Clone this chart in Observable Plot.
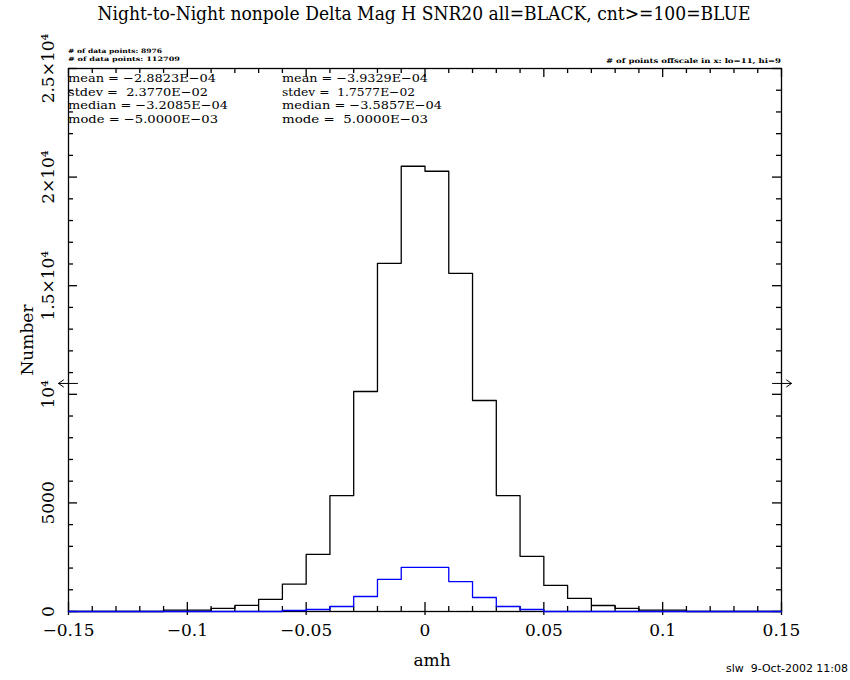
<!DOCTYPE html>
<html><head><meta charset="utf-8">
<script src="https://cdn.jsdelivr.net/npm/d3@7"></script>
<script src="https://cdn.jsdelivr.net/npm/@observablehq/plot@0.6"></script>
<style>body{margin:0;background:#fff;} svg{display:block}</style>
</head><body><div id="chart"></div>
<script>
// ---- data ----
const binStarts = [-0.15,-0.14,-0.13,-0.12,-0.11,-0.10,-0.09,-0.08,-0.07,-0.06,-0.05,-0.04,-0.03,-0.02,-0.01,
                   0.00,0.01,0.02,0.03,0.04,0.05,0.06,0.07,0.08,0.09,0.10,0.11,0.12,0.13,0.14];
const binEnd = 0.15;
const countsAll = [0,0,0,0,60,60,140,280,560,1260,2630,5335,10130,16030,20500,
                   20270,15570,9715,5335,2540,1200,600,277,140,60,60,0,0,0,0];
const countsBlue = [0,0,0,0,0,0,0,0,0,46,92,230,690,1475,2030,
                    2030,1380,645,230,92,0,0,0,0,0,0,0,0,0,0];
const xMajorTicks = [-0.15,-0.1,-0.05,0,0.05,0.1,0.15];
const xTickLabels = ["\u22120.15","\u22120.1","\u22120.05","0","0.05","0.1","0.15"];
const yMajorTicks = [0,5000,10000,15000,20000,25000];
const yTickLabels = ["0","5000","10\u2074","1.5\u00d710\u2074","2\u00d710\u2074","2.5\u00d710\u2074"];
const offscaleY = 10500;
const title = "Night-to-Night nonpole Delta Mag H SNR20 all=BLACK, cnt>=100=BLUE";
const statsAll = ["mean = \u22122.8823E\u221204","stdev =  2.3770E\u221202","median = \u22123.2085E\u221204","mode = \u22125.0000E\u221203"];
const statsBlue = ["mean = \u22123.9329E\u221204","stdev =  1.7577E\u221202","median = \u22123.5857E\u221204","mode =  5.0000E\u221203"];
const nPointsLines = ["# of data points: 8976","# of data points: 112709"];
const offscaleText = "# of points offscale in x: lo=11, hi=9";
const stamp = "slw  9-Oct-2002 11:08";

// ---- layout ----
const W = 850, H = 680, mL = 68, mR = 69, mT = 68, mB = 69;
const xMin = -0.15, xMax = 0.15, yMax = 25000;
const kx = (xMax - xMin) / (W - mL - mR);   // data units per pixel
const ky = yMax / (H - mT - mB);

function steps(counts){
  return binStarts.map((x,i)=>({x, y:counts[i]})).concat([{x: binEnd, y: counts[counts.length-1]}]);
}
const xMinor = d3.range(-14, 15).map(i => i/100).filter(v => Math.abs(Math.round(v*100)) % 5 !== 0);
const yMinor = d3.range(1000, 25000, 1000).filter(v => v % 5000 !== 0);

const chart = Plot.plot({
  width: W, height: H,
  marginLeft: mL, marginRight: mR, marginTop: mT, marginBottom: mB,
  style: {fontFamily: "DejaVu Serif", fontSize: "17px", background: "white", color: "black", overflow: "visible"},
  x: {domain: [xMin, xMax]},
  y: {domain: [0, yMax]},
  marks: [
    Plot.frame({stroke: "black", strokeWidth: 1.3}),
    // bottom ticks
    Plot.ruleX(xMajorTicks, {x: d=>d, y1: -4*ky, y2: 9*ky, stroke: "black", strokeWidth: 1.3}),
    Plot.ruleX(xMinor, {x: d=>d, y1: 0, y2: 5*ky, stroke: "black", strokeWidth: 1.3}),
    // top ticks
    Plot.ruleX(xMajorTicks, {x: d=>d, y1: yMax, y2: yMax - 9*ky, stroke: "black", strokeWidth: 1.3}),
    Plot.ruleX(xMinor, {x: d=>d, y1: yMax, y2: yMax - 5*ky, stroke: "black", strokeWidth: 1.3}),
    // left ticks
    Plot.ruleY(yMajorTicks, {y: d=>d, x1: xMin, x2: xMin + 9*kx, stroke: "black", strokeWidth: 1.3}),
    Plot.ruleY(yMinor, {y: d=>d, x1: xMin, x2: xMin + 5*kx, stroke: "black", strokeWidth: 1.3}),
    // right ticks
    Plot.ruleY(yMajorTicks, {y: d=>d, x1: xMax, x2: xMax - 9*kx, stroke: "black", strokeWidth: 1.3}),
    Plot.ruleY(yMinor, {y: d=>d, x1: xMax, x2: xMax - 5*kx, stroke: "black", strokeWidth: 1.3}),
    // axes labels
    Plot.axisX(xMajorTicks, {tickSize: 0, tickPadding: 12, tickFormat: (d,i) => xTickLabels[i], fontSize: 17, label: null}),
    Plot.axisY(yMajorTicks, {tickSize: 0, tickPadding: 15, tickRotate: -90, tickFormat: (d,i) => yTickLabels[i], fontSize: 17, label: null}),
    // histograms
    Plot.line(steps(countsAll), {x: "x", y: "y", curve: "step-after", stroke: "black", strokeWidth: 1.3}),
    Plot.line(steps(countsBlue), {x: "x", y: "y", curve: "step-after", stroke: "#0000ff", strokeWidth: 1.3}),
    // offscale arrows
    Plot.arrow([offscaleY], {x1: xMin + 9*kx, x2: xMin - 10*kx, y1: d=>d, y2: d=>d, stroke: "black", strokeWidth: 1, headLength: 9, headAngle: 70}),
    Plot.arrow([offscaleY], {x1: xMax - 9*kx, x2: xMax + 10*kx, y1: d=>d, y2: d=>d, stroke: "black", strokeWidth: 1, headLength: 9, headAngle: 70})
  ]
});
document.getElementById("chart").appendChild(chart);

// ---- annotations (real text) ----
const svg = d3.select(chart);
function txt(s, x, y, opts={}){
  const t = svg.append("text").attr("x", x).attr("y", y).text(s)
    .attr("font-family", opts.family || "DejaVu Serif")
    .attr("font-size", opts.size || 13)
    .attr("fill", "black")
    .attr("text-anchor", opts.anchor || "start");
  if (opts.weight) t.attr("font-weight", opts.weight);
  if (opts.len) t.attr("textLength", opts.len).attr("lengthAdjust", "spacingAndGlyphs");
  if (opts.rotate) t.attr("transform", `rotate(${opts.rotate},${x},${y})`);
  return t;
}
txt(title, 424, 20, {size: 18, anchor: "middle", len: 653});
txt("Number", 33, 340, {size: 17, anchor: "middle", rotate: -90});
txt("amh", 432, 666, {size: 17, anchor: "middle"});
txt(stamp, 848, 672, {size: 10, anchor: "end", family: "DejaVu Sans", len: 122});
txt(nPointsLines[0], 68, 53, {size: 6, weight: "bold", len: 94});
txt(nPointsLines[1], 68, 60.5, {size: 6, weight: "bold", len: 112});
txt(offscaleText, 781, 63, {size: 6.5, weight: "bold", anchor: "end", len: 175});
const lensAll = [148, 140, 160, 150], lensBlue = [146, 133, 160, 146];
statsAll.forEach((s,i) => txt(s, 68, 82 + i*13.5, {size: 11.5, len: lensAll[i]}));
statsBlue.forEach((s,i) => txt(s, 282, 82 + i*13.5, {size: 11.5, len: lensBlue[i]}));
</script>
</body></html>
